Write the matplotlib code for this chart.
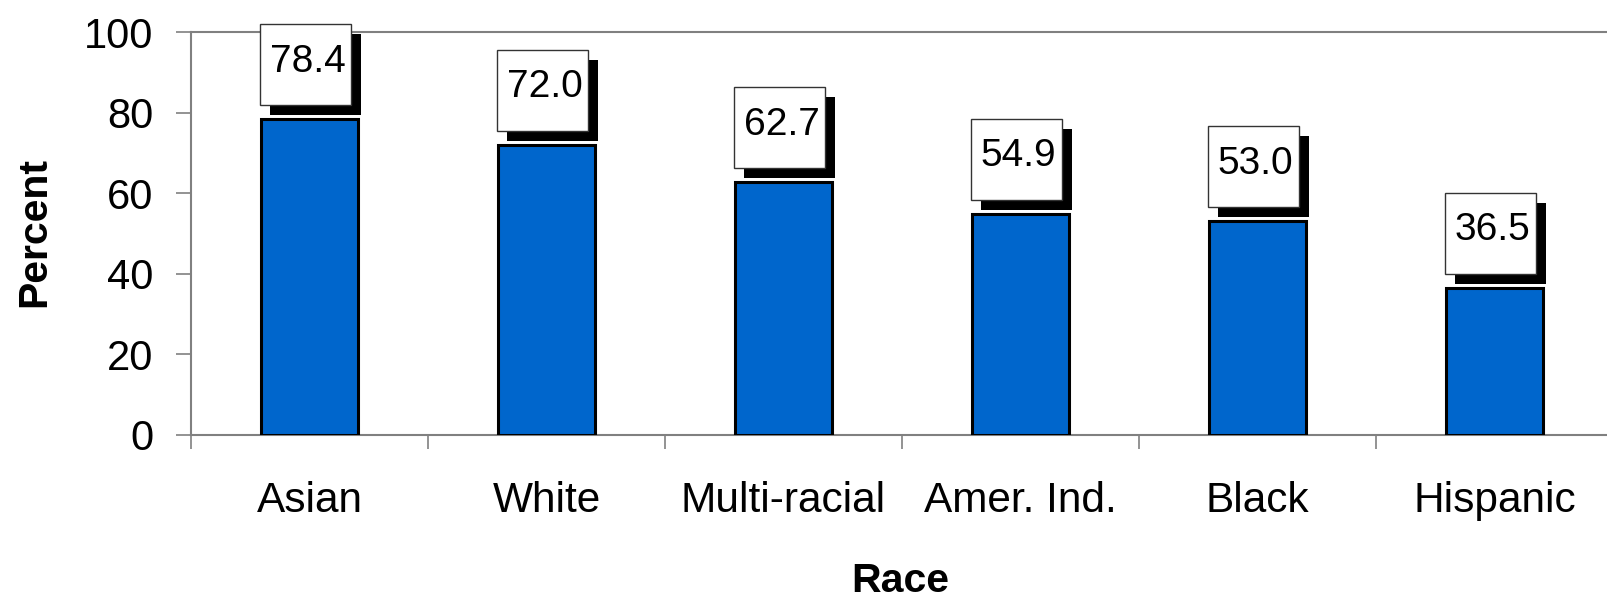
import matplotlib
matplotlib.use("Agg")
import matplotlib.pyplot as plt
from matplotlib.patches import Rectangle
from matplotlib.transforms import ScaledTranslation

categories = ["Asian", "White", "Multi-racial", "Amer. Ind.", "Black", "Hispanic"]
values = [78.4, 72.0, 62.7, 54.9, 53.0, 36.5]
labels = ["78.4", "72.0", "62.7", "54.9", "53.0", "36.5"]
yticks = [0, 20, 40, 60, 80, 100]

plt.rcParams['font.family'] = ['Liberation Sans', 'DejaVu Sans']

W, H, DPI = 1608, 594, 100
fig = plt.figure(figsize=(W / DPI, H / DPI), dpi=DPI)
left, right, top, bottom = 191, 1613, 32, 435
ax = fig.add_axes([left / W, (H - bottom) / H, (right - left) / W, (bottom - top) / H])

x = list(range(len(categories)))
ax.bar(x, values, width=0.41, color="#0066CC", edgecolor="black", linewidth=2.2, zorder=3)

ax.set_xlim(-0.5, len(categories) - 0.5)
ax.set_ylim(0, 100)

gray = "#808080"
for s in ["left", "top", "bottom"]:
    ax.spines[s].set_color(gray)
    ax.spines[s].set_linewidth(1.5)
ax.spines["right"].set_visible(False)

ax.set_yticks(yticks)
ax.set_yticklabels([str(t) for t in yticks], fontsize=30)
ax.tick_params(axis="y", length=11, width=1.2, color=gray, pad=16, direction="out")

ax.set_xticks(x)
ax.set_xticklabels(categories, fontsize=30.5)
ax.tick_params(axis="x", which="major", length=0, pad=33)
ax.set_xticks([i - 0.5 for i in range(len(categories) + 1)], minor=True)
ax.tick_params(axis="x", which="minor", length=10, width=1.2, color=gray, direction="out")

ax.set_ylabel("Percent", fontsize=29.5, fontweight="bold")
ax.yaxis.set_label_coords(-0.097, 0.504)
ax.set_xlabel("Race", fontsize=29.5, fontweight="bold")
ax.xaxis.set_label_coords(0.4986, -0.315)

# value boxes with drop shadow (sizes in inches)
bw, bh, gap, cx_off = 0.91, 0.81, 0.14, -0.04
sdx, sdy = 0.10, 0.10
for xi, v, lab in zip(x, values, labels):
    tr = fig.dpi_scale_trans + ScaledTranslation(xi, v, ax.transData)
    shadow = Rectangle((cx_off - bw / 2 + sdx, gap - sdy), bw, bh, transform=tr,
                       facecolor="black", edgecolor="black", lw=0, clip_on=False, zorder=5)
    box = Rectangle((cx_off - bw / 2, gap), bw, bh, transform=tr,
                    facecolor="white", edgecolor="#333333", lw=1.0, clip_on=False, zorder=6)
    ax.add_patch(shadow)
    ax.add_patch(box)
    ax.text(cx_off + 0.02, gap + bh / 2 + 0.03, lab, transform=tr, ha="center", va="center",
            fontsize=28, zorder=7, clip_on=False)

fig.savefig("out.png", dpi=DPI)
